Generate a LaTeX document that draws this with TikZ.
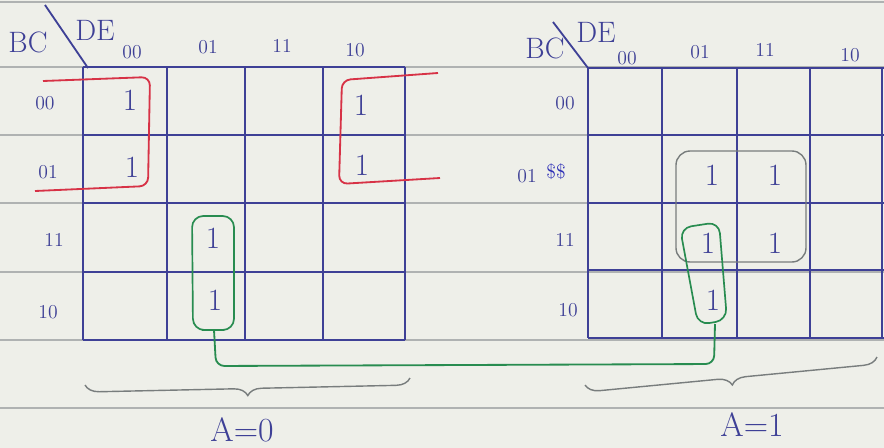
\documentclass[tikz,border=0pt]{standalone}
\usetikzlibrary{decorations.pathreplacing}
\definecolor{paper}{RGB}{238,239,233}
\definecolor{rule}{RGB}{175,178,178}
\definecolor{ink}{RGB}{62,64,150}
\definecolor{redink}{RGB}{215,50,70}
\definecolor{greenink}{RGB}{40,140,80}
\definecolor{grayink}{RGB}{120,125,125}
\begin{document}
\begin{tikzpicture}[x=0.025cm,y=-0.025cm,
  gridline/.style={draw=ink,line width=1.3pt},
  paperline/.style={draw=rule,line width=0.8pt},
  lbl/.style={text=ink,font=\fontsize{14}{16}\selectfont,inner sep=0pt},
  big/.style={text=ink,font=\fontsize{21}{24}\selectfont,inner sep=0pt},
  alabel/.style={text=ink,font=\fontsize{24}{28}\selectfont,inner sep=0pt},
  one/.style={text=ink,font=\fontsize{22}{26}\selectfont,inner sep=0pt},
  redloop/.style={draw=redink,line width=1.3pt,rounded corners=6pt},
  greenloop/.style={draw=greenink,line width=1.2pt,rounded corners=8pt},
  grayloop/.style={draw=grayink,line width=1pt,rounded corners=10pt},
  brace/.style={draw=grayink,line width=1pt,decorate,decoration={brace,amplitude=10pt}}]
\useasboundingbox (0,0) rectangle (884,448);
\fill[paper] (0,0) rectangle (884,448);
% ruled paper lines
\foreach \y in {2,67,135,203,272,340,408}
  \draw[paperline] (0,\y) -- (884,\y);
% left map grid
\foreach \x in {83,167,245,323,405}
  \draw[gridline] (\x,67) -- (\x,340);
\foreach \y in {67,135,203,272,340}
  \draw[gridline] (83,\y) -- (405,\y);
% right map grid
\foreach \x in {588,662,737,810,882}
  \draw[gridline] (\x,68) -- (\x,338);
\foreach \y in {68,135,203,270,338}
  \draw[gridline] (588,\y) -- (884,\y);
% corner diagonals
\coordinate (dl1) at (45,5); \coordinate (dl2) at (88,68);
\draw[gridline] (dl1) -- (dl2);
\coordinate (dr1) at (553,22); \coordinate (dr2) at (588,68);
\draw[gridline] (dr1) -- (dr2);
% left labels
\node[big] (lbc) at (28,42) {BC};
\node[big] (lde) at (95,30) {DE};
\node[lbl] (lc0) at (132,52) {00};
\node[lbl] (lc1) at (208,47) {01};
\node[lbl] (lc2) at (282,46) {11};
\node[lbl] (lc3) at (355,50) {10};
\node[lbl] (lr0) at (45,103) {00};
\node[lbl] (lr1) at (48,172) {01};
\node[lbl] (lr2) at (54,240) {11};
\node[lbl] (lr3) at (48,312) {10};
% right labels
\node[big] (rbc) at (545,48) {BC};
\node[big] (rde) at (596,32) {DE};
\node[lbl] (rc0) at (627,58) {00};
\node[lbl] (rc1) at (700,52) {01};
\node[lbl] (rc2) at (765,50) {11};
\node[lbl] (rc3) at (850,55) {10};
\node[lbl] (rr0) at (565,103) {00};
\node[lbl] (rr1) at (527,176) {01};
\node[lbl,text=ink!70!blue] (rrx) at (556,172) {\$\$};
\node[lbl] (rr2) at (565,240) {11};
\node[lbl] (rr3) at (568,310) {10};
% ones left
\node[one] (a1) at (130,100) {1};
\node[one] (a2) at (132,167) {1};
\node[one] (a3) at (361,105) {1};
\node[one] (a4) at (362,165) {1};
\node[one] (a5) at (213,238) {1};
\node[one] (a6) at (215,300) {1};
% ones right
\node[one] (b1) at (712,175) {1};
\node[one] (b2) at (775,175) {1};
\node[one] (b3) at (708,243) {1};
\node[one] (b4) at (775,243) {1};
\node[one] (b5) at (713,300) {1};
% red loops
\draw[redloop] (43,81) -- (150,77) -- (148,186) -- (35,191);
\draw[redloop] (438,73) -- (342,80) -- (339,184) -- (440,178);
% gray group on right
\draw[grayloop] (676,151) rectangle (806,262);
% green loops
\draw[greenloop] (213,330) -- (193,330) -- (192,216) -- (234,216) -- (234,330) -- cycle;
\draw[greenloop] (680,228) -- (719,222) -- (727,320) -- (698,325) -- cycle;
% green connector
\coordinate (gl) at (214,330);
\coordinate (gr) at (715,324);
\draw[draw=greenink,line width=1.3pt,rounded corners=6pt] (gl) -- (216,366) -- (714,364) -- (gr);
% braces
\draw[brace] (410,378) -- (85,385);
\draw[brace] (877,357) -- (585,385);
\node[alabel] (la) at (242,430) {A=0};
\node[alabel] (ra) at (752,425) {A=1};
\end{tikzpicture}
\end{document}
